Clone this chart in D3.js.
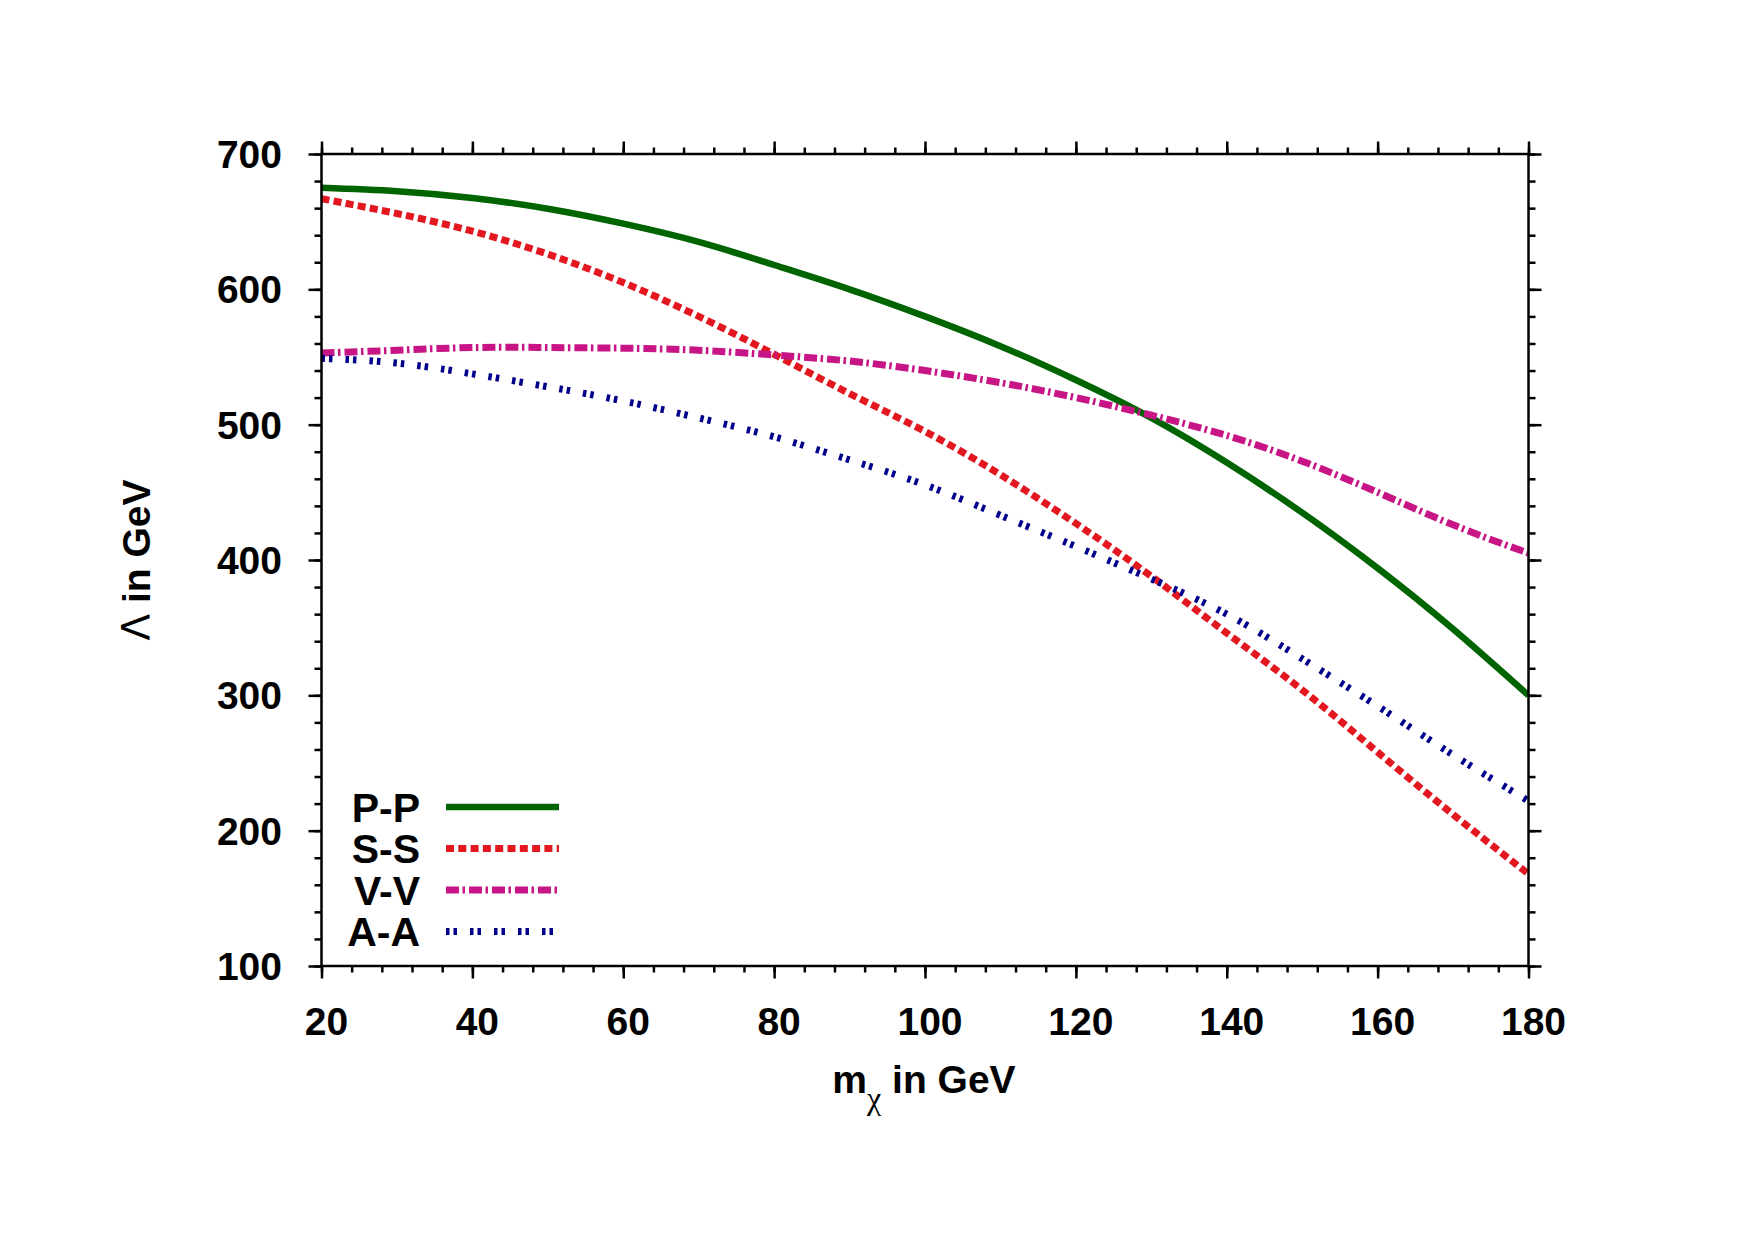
<!DOCTYPE html>
<html>
<head>
<meta charset="utf-8">
<script src="https://cdn.jsdelivr.net/npm/d3@7"></script>
<style>
  body { margin: 0; background: #fff; }
  text { font-family: "Liberation Sans", Arial, sans-serif; font-weight: bold; }
</style>
</head>
<body>
<div id="chart"></div>
<script>
// Data
var massValues = [20, 30, 40, 50, 60, 70, 80, 90, 100, 110, 120, 130, 140, 150, 160, 170, 180];
var ppValues = [675, 672.5, 667.5, 659.5, 648.5, 635, 618, 600, 580, 558, 533, 505, 472, 435, 394, 349, 300];
var ssValues = [667, 656, 643, 626, 605, 580, 552, 523, 495, 463, 427, 388, 346, 304, 258, 212, 168];
var vvValues = [553, 555, 557, 557, 556.5, 555, 551.5, 547, 540, 531, 520, 507, 492, 473, 450, 426, 405];
var aaValues = [549, 545.5, 537.5, 528, 517.5, 505, 491, 474, 455.5, 433, 410, 386, 360, 327, 292, 256, 222];
var seriesNames = ["P-P", "S-S", "V-V", "A-A"];
var xTicks = [20, 40, 60, 80, 100, 120, 140, 160, 180];
var yTicks = [100, 200, 300, 400, 500, 600, 700];

var svgWidth = 1755;
var svgHeight = 1240;
var margin = { top: 154, right: 226.5, bottom: 274, left: 321.5 };
var width = svgWidth - margin.left - margin.right;
var height = svgHeight - margin.top - margin.bottom;

var svg = d3.select("#chart")
    .append("svg")
    .attr("width", svgWidth)
    .attr("height", svgHeight);

var chartGroup = svg.append("g")
    .attr("transform", `translate(${margin.left}, ${margin.top})`);

var xScale = d3.scaleLinear().domain([20, 180]).range([0, width]);
var yScale = d3.scaleLinear().domain([100, 700]).range([height, 0]);

// line styles per series
var styles = [
    { color: "#006400", width: 6.5, dash: null },
    { color: "#e3171f", width: 7, dash: "8,4.3" },
    { color: "#c71585", width: 7, dash: "13,3.5,2.5,4" },
    { color: "#00008b", width: 7, dash: "3.5,4,3.5,13" }
];
var allSeries = [ppValues, ssValues, vvValues, aaValues];

// clip
chartGroup.append("clipPath").attr("id", "plotclip")
    .append("rect").attr("x", 0).attr("y", 0).attr("width", width).attr("height", height);

var lineGen = d3.line()
    .x((d, i) => xScale(massValues[i]))
    .y(d => yScale(d))
    .curve(d3.curveNatural);

var curves = chartGroup.append("g").attr("clip-path", "url(#plotclip)");
allSeries.forEach(function(vals, k) {
    curves.append("path")
        .datum(vals)
        .attr("d", lineGen)
        .attr("fill", "none")
        .attr("stroke", styles[k].color)
        .attr("stroke-width", styles[k].width)
        .attr("stroke-dasharray", styles[k].dash)
        .attr("stroke-linecap", "butt");
});

// axes with outward ticks on all four sides
var xMinor = d3.range(20, 181, 4);
var yMinor = d3.range(100, 701, 20);

function styleAxis(g) {
    g.selectAll("path").remove();
    g.selectAll("line").attr("stroke", "#000").attr("stroke-width", 2.5);
    g.selectAll("text").remove();
}

chartGroup.append("g").attr("transform", `translate(0, ${height})`)
    .call(d3.axisBottom(xScale).tickValues(xMinor).tickSize(6.5)).call(styleAxis);
chartGroup.append("g").attr("transform", `translate(0, ${height})`)
    .call(d3.axisBottom(xScale).tickValues(xTicks).tickSize(12.5)).call(styleAxis);
chartGroup.append("g")
    .call(d3.axisTop(xScale).tickValues(xMinor).tickSize(6.5)).call(styleAxis);
chartGroup.append("g")
    .call(d3.axisTop(xScale).tickValues(xTicks).tickSize(12.5)).call(styleAxis);
chartGroup.append("g")
    .call(d3.axisLeft(yScale).tickValues(yMinor).tickSize(7)).call(styleAxis);
chartGroup.append("g")
    .call(d3.axisLeft(yScale).tickValues(yTicks).tickSize(13)).call(styleAxis);
chartGroup.append("g").attr("transform", `translate(${width}, 0)`)
    .call(d3.axisRight(yScale).tickValues(yMinor).tickSize(7)).call(styleAxis);
chartGroup.append("g").attr("transform", `translate(${width}, 0)`)
    .call(d3.axisRight(yScale).tickValues(yTicks).tickSize(13)).call(styleAxis);

// frame
chartGroup.append("rect")
    .attr("width", width).attr("height", height)
    .attr("fill", "none").attr("stroke", "#000").attr("stroke-width", 2.5);

// tick labels
chartGroup.selectAll(".xlab")
    .data(xTicks).enter().append("text")
    .attr("x", d => xScale(d) + 5)
    .attr("y", height + 69)
    .attr("text-anchor", "middle")
    .attr("font-size", "39px")
    .text(d => d);

chartGroup.selectAll(".ylab")
    .data(yTicks).enter().append("text")
    .attr("x", -39.5)
    .attr("y", d => yScale(d))
    .attr("dy", "0.36em")
    .attr("text-anchor", "end")
    .attr("font-size", "39px")
    .text(d => d);

// x axis title
var xTitle = svg.append("text")
    .attr("x", 924)
    .attr("y", 1093)
    .attr("text-anchor", "middle")
    .attr("font-size", "39px");
xTitle.append("tspan").text("m");
xTitle.append("tspan")
    .attr("dy", 16)
    .attr("font-family", "Liberation Serif, serif")
    .attr("font-weight", "normal")
    .attr("font-size", "32px")
    .text("χ");
xTitle.append("tspan").attr("dy", -16).text(" in GeV");

// y axis title
var yTitle = svg.append("text")
    .attr("transform", "translate(150, 560) rotate(-90)")
    .attr("text-anchor", "middle")
    .attr("font-size", "39px");
yTitle.append("tspan")
    .attr("font-family", "DejaVu Sans, sans-serif")
    .attr("font-weight", "normal")
    .text("Λ");
yTitle.append("tspan").text(" in GeV");

// legend
var legendY = [807, 848.5, 890, 931.5];
var legend = svg.append("g");
seriesNames.forEach(function(name, k) {
    legend.append("text")
        .attr("x", 420)
        .attr("y", legendY[k])
        .attr("dy", "0.36em")
        .attr("text-anchor", "end")
        .attr("font-size", "41px")
        .text(name);
    legend.append("line")
        .attr("x1", 446).attr("x2", 559)
        .attr("y1", legendY[k]).attr("y2", legendY[k])
        .attr("stroke", styles[k].color)
        .attr("stroke-width", styles[k].width)
        .attr("stroke-dasharray", styles[k].dash);
});
</script>
</body>
</html>
